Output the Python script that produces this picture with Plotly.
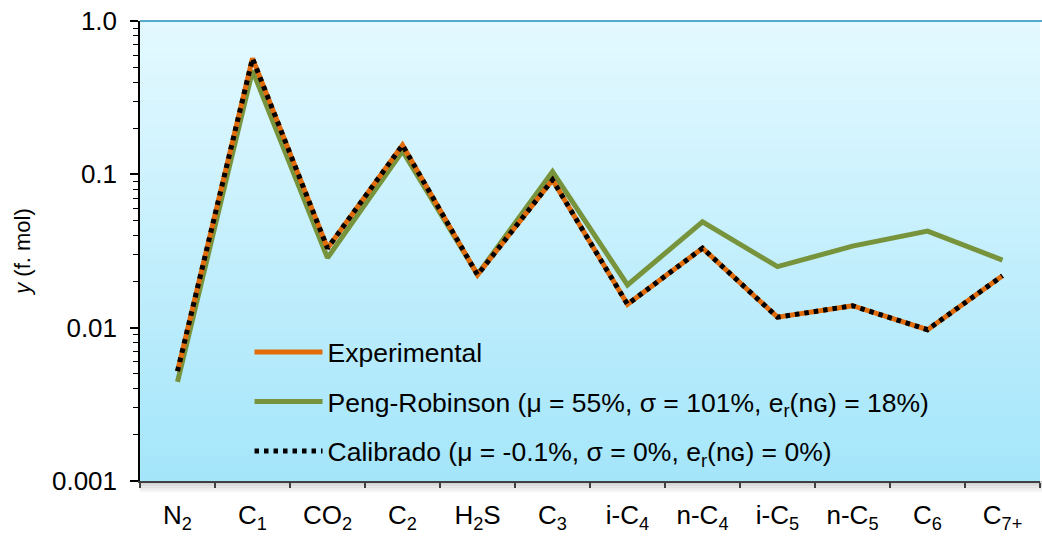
import plotly.graph_objects as go

categories = ["N<sub>2</sub>", "C<sub>1</sub>", "CO<sub>2</sub>", "C<sub>2</sub>", "H<sub>2</sub>S", "C<sub>3</sub>",
              "i-C<sub>4</sub>", "n-C<sub>4</sub>", "i-C<sub>5</sub>", "n-C<sub>5</sub>", "C<sub>6</sub>", "C<sub>7+</sub>"]
experimental = [0.0052, 0.57, 0.033, 0.155, 0.0221, 0.092, 0.0142, 0.033, 0.0117, 0.0139, 0.0097, 0.0218]
peng_robinson = [0.00443, 0.475, 0.0285, 0.142, 0.0222, 0.104, 0.019, 0.049, 0.025, 0.034, 0.0426, 0.0276]
calibrado = [0.0052, 0.57, 0.033, 0.155, 0.0221, 0.092, 0.0142, 0.033, 0.0117, 0.0139, 0.0097, 0.0218]

y_ticks = [0.001, 0.01, 0.1, 1.0]
y_tick_labels = ["0.001", "0.01", "0.1", "1.0"]

name_exp = "Experimental"
name_pr = "Peng-Robinson (\u03bc = 55%, \u03c3 = 101%, e<sub>r</sub>(n\u0262) = 18%)"
name_cal = "Calibrado (\u03bc = -0.1%, \u03c3 = 0%, e<sub>r</sub>(n\u0262) = 0%)"

FONT = "Liberation Sans, Arial, sans-serif"

fig = go.Figure()
fig.add_trace(go.Scatter(x=categories, y=peng_robinson, mode="lines", name=name_pr,
                         line=dict(color="#77933C", width=5), legendrank=2, legendgroup="b"))
fig.add_trace(go.Scatter(x=categories, y=experimental, mode="lines", name=name_exp,
                         line=dict(color="#E36C0A", width=5), legendrank=1, legendgroup="a"))
fig.add_trace(go.Scatter(x=categories, y=calibrado, mode="lines", name=name_cal,
                         line=dict(color="#000000", width=5, dash="4.5px,5px"), legendrank=3, legendgroup="c"))

# background gradient
shapes = []
n = 58
top = (0xE4, 0xF9, 0xFF)
bot = (0xA4, 0xE5, 0xFA)
for i in range(n):
    t = (i + 0.5) / n
    c = tuple(round(top[k] + (bot[k] - top[k]) * t) for k in range(3))
    shapes.append(dict(type="rect", xref="x domain", yref="y domain", x0=0, x1=1,
                       y0=1 - i / n, y1=1 - (i + 1) / n - 0.001, fillcolor="rgb(%d,%d,%d)" % c,
                       line=dict(width=0), layer="below"))
# shadow under x axis
for i in range(6):
    g = 200 + i * 9
    shapes.append(dict(type="rect", xref="x domain", yref="y domain", x0=0, x1=1.01,
                       y0=-0.004 * i, y1=-0.004 * (i + 1), fillcolor="rgb(%d,%d,%d)" % (g, g, g),
                       line=dict(width=0), layer="below"))
# top border
shapes.append(dict(type="line", xref="x domain", yref="y domain", x0=0, x1=1.01, y0=1, y1=1,
                   line=dict(color="#55AACB", width=2)))
fig.update_layout(shapes=shapes)

fig.update_layout(
    width=1042, height=536,
    margin=dict(l=140, r=2, t=21, b=51),
    paper_bgcolor="white", plot_bgcolor="#C4EFFC",
    font=dict(family=FONT, size=26, color="black"),
    showlegend=True,
    legend=dict(x=0.1217, y=0.332, xanchor="left", yanchor="top", bgcolor="rgba(0,0,0,0)",
                font=dict(size=26.5), tracegroupgap=12, traceorder="grouped", itemwidth=68),
)
fig.update_xaxes(
    type="category", range=[-0.5, 11.5], showgrid=False, zeroline=False,
    showline=True, linecolor="#404040", linewidth=2,
    ticks="outside", tickson="boundaries", ticklen=5, tickcolor="#404040", tickwidth=1.5,
    ticklabelstandoff=10, tickfont=dict(size=26),
)
fig.update_yaxes(
    type="log", range=[-3, 0], showgrid=False, zeroline=False,
    showline=True, linecolor="black", linewidth=1.5,
    tickmode="array", tickvals=y_ticks, ticktext=y_tick_labels,
    ticks="outside", ticklen=8, tickcolor="black", tickwidth=1.5,
    ticklabelstandoff=8, tickfont=dict(size=26),
    minor=dict(ticks="outside", ticklen=5, tickcolor="black", tickwidth=1,
               tickvals=[m * 10 ** e for e in (-3, -2, -1) for m in range(2, 10)]),
    title=dict(text="<i>y</i> (f. mol)", font=dict(size=22), standoff=15),
)
fig.write_html("out.html")
